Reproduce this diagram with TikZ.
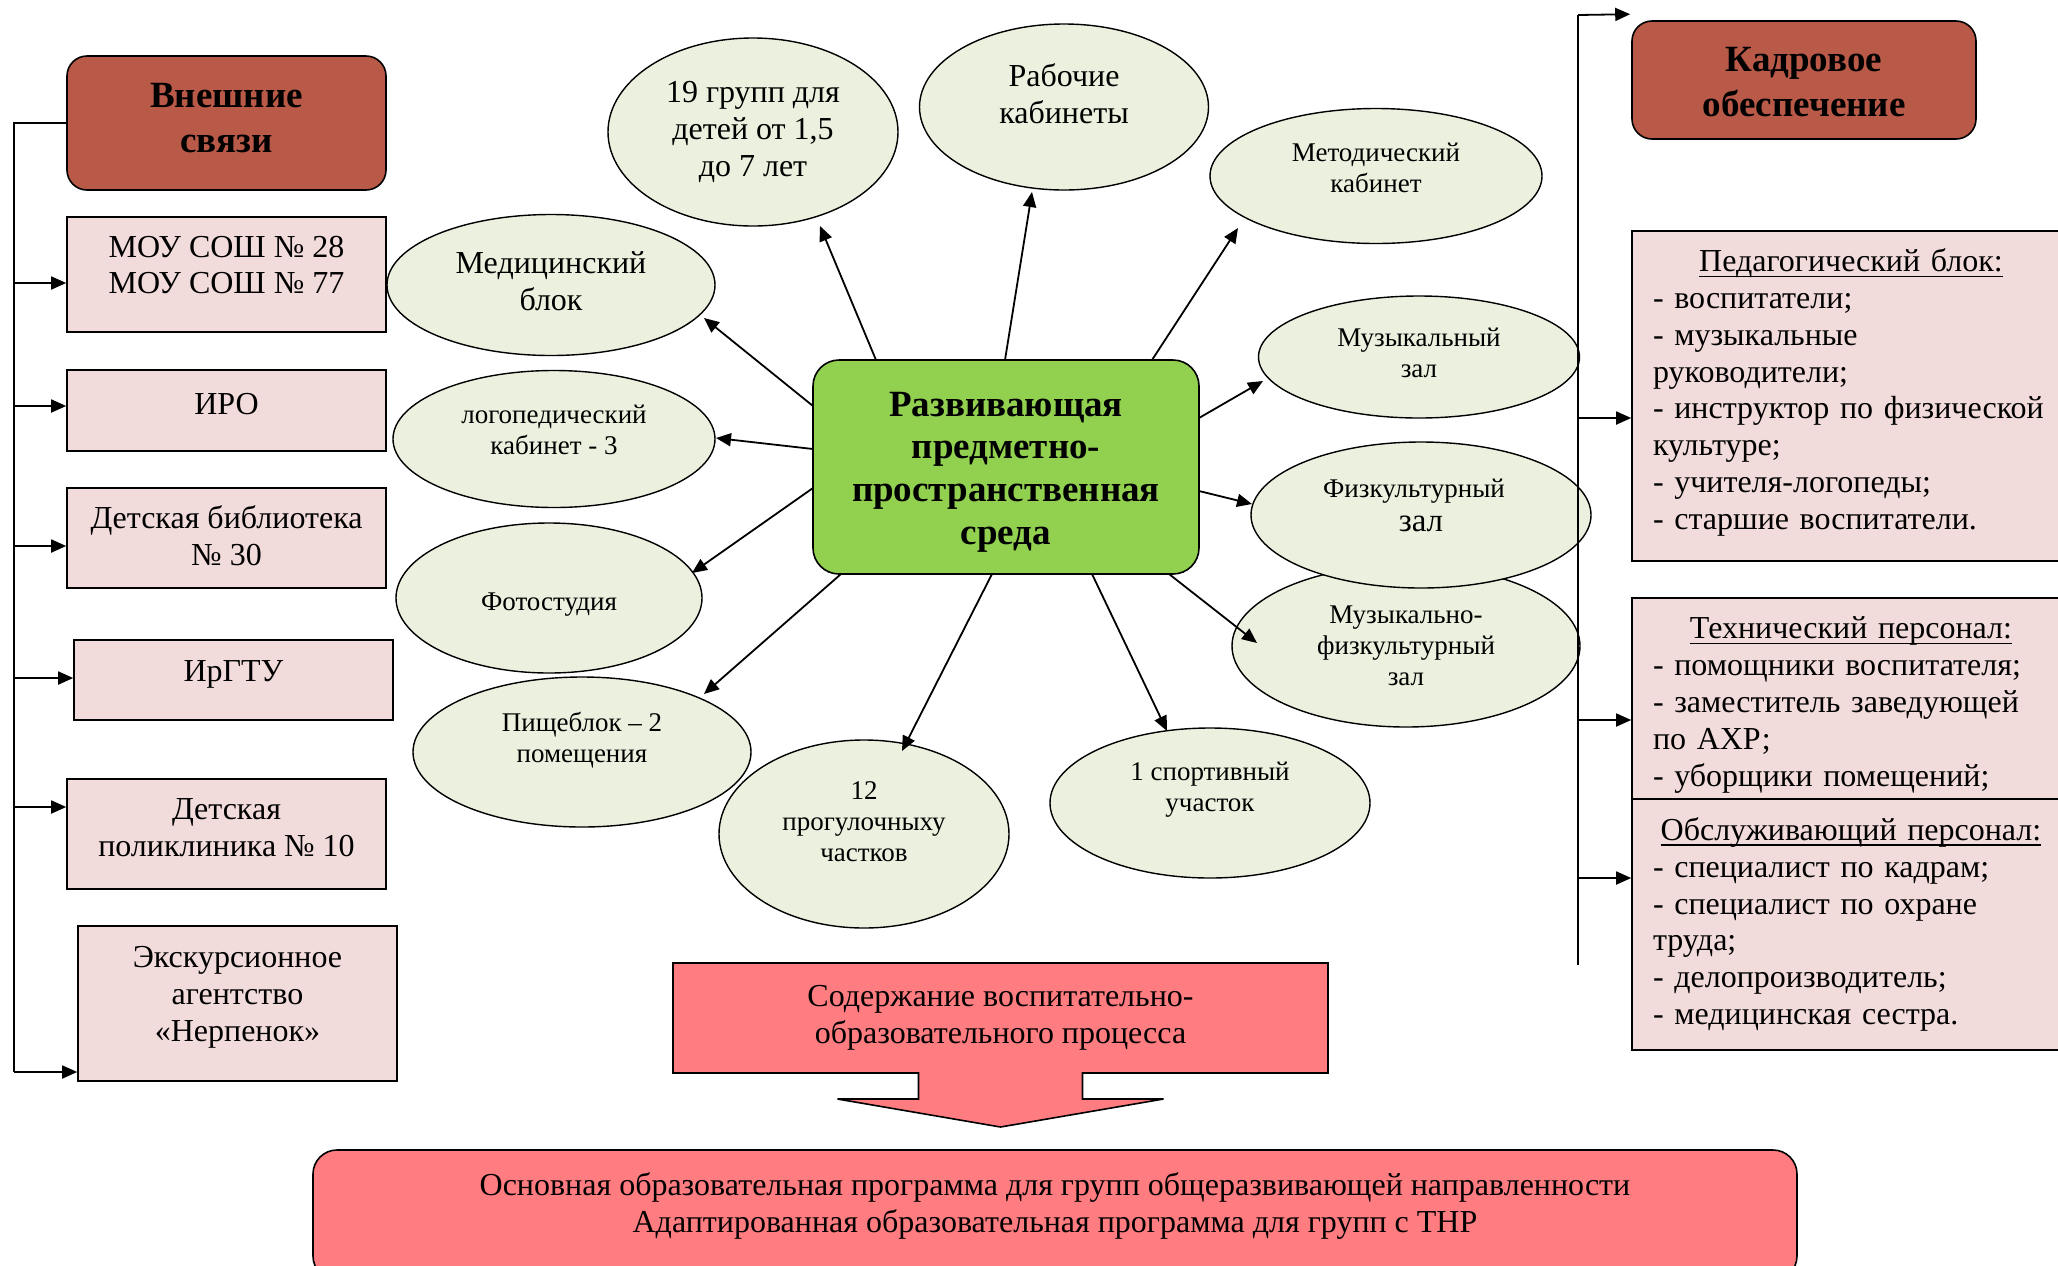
\documentclass[tikz,border=0pt]{standalone}
\usepackage{fontspec}
\setmainfont{Liberation Serif}
\usetikzlibrary{shapes.geometric,arrows.meta,calc}
\definecolor{brownhdr}{RGB}{185,89,72}
\definecolor{pinkbox}{RGB}{242,220,219}
\definecolor{ellfill}{RGB}{235,241,222}
\definecolor{greenc}{RGB}{146,208,80}
\definecolor{redbox}{RGB}{255,124,128}
\newcommand\myul[1]{\setbox0=\hbox{#1}\rlap{\rule[-2.5pt]{\wd0}{0.6pt}}\box0}
\begin{document}
\begin{tikzpicture}[x=0.5pt,y=-0.5pt,
  hdr/.style={draw=black, line width=0.8pt, fill=brownhdr, rounded corners=10pt, inner sep=0pt},
  hdrt/.style={font=\fontsize{18.5}{22.8}\selectfont\bfseries, align=center, inner sep=0pt},
  ext/.style={draw=black, line width=0.8pt, fill=pinkbox, inner sep=0pt, minimum width=159.5pt},
  rbox/.style={draw=black, line width=0.8pt, fill=pinkbox, minimum width=219pt, inner sep=0pt},
  rboxt/.style={font=\fontsize{16}{18.4}\selectfont, align=left, text width=198pt, inner sep=0pt},
  ell/.style={ellipse, draw=black, line width=0.7pt, fill=ellfill, inner sep=0pt},
  bigt/.style={font=\fontsize{16}{18.4}\selectfont, align=center, inner sep=0pt},
  smallt/.style={font=\fontsize{13.5}{15.5}\selectfont, align=center, inner sep=0pt},
  arr/.style={line width=0.9pt, -{Triangle[length=7.5pt,width=6.5pt]}},
  busline/.style={line width=0.9pt},
]
\clip (0,0) rectangle (2058,1265);
\fill[white] (0,0) rectangle (2058,1265);

% ---------- left column ----------
\node[hdr, minimum width=159.5pt, minimum height=67pt] (vs) at (226.5,123) {};
\node[hdrt] (vst) at ($(vs.center)+(0,-5)$) {Внешние\\связи};
\node[ext, minimum height=57.5pt] (moy) at (226.5,274.5) {};
\node[bigt] (moyt) at ($(moy.center)+(0,-9.5)$) {МОУ СОШ № 28\\МОУ СОШ № 77};
\node[ext, minimum height=40.5pt] (iro) at (226.5,410.5) {};
\node[bigt] (irot) at ($(iro.center)+(0,-6)$) {ИРО};
\node[ext, minimum height=50pt] (lib) at (226.5,538) {};
\node[bigt] (libt) at ($(lib.center)+(0,-2)$) {Детская библиотека\\№ 30};
\node[ext, minimum height=40pt] (irg) at (233.5,680) {};
\node[bigt] (irgt) at ($(irg.center)+(0,-6)$) {ИрГТУ};
\node[ext, minimum height=55pt] (pol) at (226.5,834) {};
\node[bigt] (polt) at ($(pol.center)+(0,-6.5)$) {Детская\\поликлиника № 10};
\node[ext, minimum height=77.5pt] (exc) at (237.5,1003.5) {};
\node[bigt] (exct) at ($(exc.center)+(0,-6)$) {Экскурсионное\\агентство\\«Нерпенок»};

\draw[busline] (vs.west) -- ++(-52,0) coordinate (lbtop) -- ($(exc.west)+(-63,68.5)$) coordinate (lbbot);
\draw[arr] ($(moy.west)+(-52,8.5)$) -- ($(moy.west)+(0,8.5)$);
\draw[arr] ($(iro.west)+(-52,-4.5)$) -- ($(iro.west)+(0,-4.5)$);
\draw[arr] ($(lib.west)+(-52,8)$) -- ($(lib.west)+(0,8)$);
\draw[arr] ($(irg.west)+(-59,-2)$) -- ($(irg.west)+(0,-2)$);
\draw[arr] ($(pol.west)+(-52,-27)$) -- ($(pol.west)+(0,-27)$);
\draw[arr] (lbbot) -- ($(exc.west)+(0,68.5)$);

% ---------- centre ----------
\node[draw=black, line width=0.8pt, fill=greenc, rounded corners=13pt, minimum width=193pt,
  minimum height=107pt, inner sep=0pt] (ctr) at (1006,467) {};
\node[font=\fontsize{18.5}{21.3}\selectfont\bfseries, align=center, inner sep=0pt]
  (ctrt) at ($(ctr.center)+(0,5)$) {Развивающая\\предметно-\\пространственная\\среда};

% ---------- ellipses ----------
\node[ell, minimum width=145pt, minimum height=94pt] (g19) at (753,132) {};
\node[bigt] (g19t) at (g19.center) {19 групп для\\детей от 1,5\\до 7 лет};
\node[ell, minimum width=144.5pt, minimum height=83pt] (rab) at (1064,107) {};
\node[bigt] (rabt) at ($(rab.center)+(0,-13)$) {Рабочие\\кабинеты};
\node[ell, minimum width=164pt, minimum height=70.5pt] (med) at (551,285) {};
\node[bigt] (medt) at ($(med.center)+(0,-4)$) {Медицинский\\блок};
\node[ell, minimum width=166pt, minimum height=67.5pt] (met) at (1376,176) {};
\node[smallt] (mett) at ($(met.center)+(0,-8)$) {Методический\\кабинет};
\node[ell, minimum width=160.5pt, minimum height=61pt] (muz) at (1419,357) {};
\node[smallt] (muzt) at ($(muz.center)+(0,-4)$) {Музыкальный\\зал};
\node[ell, minimum width=174pt, minimum height=81pt] (mf) at (1406,646) {};
\node[smallt] (mft) at (mf.center) {Музыкально-\\физкультурный\\зал};
\node[ell, minimum width=170pt, minimum height=73pt] (fiz) at (1421,515) {};
\node[font=\fontsize{13.5}{17}\selectfont, align=center, inner sep=0pt] (fizt) at ($(fiz.center)+(-7,-10)$) {Физкультурный\\\hspace*{7pt}{\fontsize{16.5}{17}\selectfont зал}};
\node[ell, minimum width=161pt, minimum height=68.5pt] (lo) at (554,439) {};
\node[smallt] (lot) at ($(lo.center)+(0,-9)$) {логопедический\\кабинет - 3};
\node[ell, minimum width=153pt, minimum height=75pt] (fo) at (549,598) {};
\node[smallt] (fot) at ($(fo.center)+(0,7)$) {Фотостудия};
\node[ell, minimum width=169pt, minimum height=75pt] (pi) at (582,752) {};
\node[smallt] (pit) at ($(pi.center)+(0,-12)$) {Пищеблок – 2\\помещения};
\node[ell, minimum width=145pt, minimum height=94pt] (pr) at (864,834) {};
\node[smallt] (prt) at ($(pr.center)+(0,-12)$) {12\\прогулочныху\\частков};
\node[ell, minimum width=160pt, minimum height=75pt] (sp) at (1210,803) {};
\node[smallt] (spt) at ($(sp.center)+(0,-13)$) {1 спортивный\\участок};

% ---------- connectors from centre ----------
\draw[arr] ($(ctr.center)+(-193,-61)$) -- ($(med.center)+(153,33)$);
\draw[arr] ($(ctr.center)+(-130,-107)$) -- ($(g19.center)+(67,94)$);
\draw[arr] ($(ctr.center)+(-1,-107)$) -- ($(rab.center)+(-32,85)$);
\draw[arr] ($(ctr.center)+(146,-107)$) -- ($(met.center)+(-138,52)$);
\draw[arr] ($(ctr.center)+(193,-49)$) -- ($(muz.center)+(-156,24)$);
\draw[arr] ($(ctr.center)+(193,24)$) -- ($(fiz.center)+(-169,-11)$);
\draw[arr] ($(ctr.center)+(163,107)$) -- ($(mf.center)+(-149,-3)$);
\draw[arr] ($(ctr.center)+(86,107)$) -- ($(sp.center)+(-43,-72)$);
\draw[arr] ($(ctr.center)+(-14,107)$) -- ($(pr.center)+(38,-83)$);
\draw[arr] ($(ctr.center)+(-165,107)$) -- ($(pi.center)+(122,-58)$);
\draw[arr] ($(ctr.center)+(-193,21)$) -- ($(fo.center)+(143,-25)$);
\draw[arr] ($(ctr.center)+(-193,-18)$) -- ($(lo.center)+(162,-1)$);

% ---------- right column ----------
\node[hdr, minimum width=172pt, minimum height=59pt] (kad) at (1804,80) {};
\node[hdrt] (kadt) at ($(kad.center)+(0,2)$) {Кадровое\\обеспечение};
\node[rbox, minimum height=165pt] (ped) at (1851,396) {};
\node[rboxt] (pedt) at ($(ped.center)+(0,-3.5)$) {\makebox[198pt][c]{\myul{Педагогический блок:}}\\- воспитатели;\\- музыкальные\\руководители;\\- инструктор по физической\\культуре;\\- учителя-логопеды;\\- старшие воспитатели.};
\node[rbox, minimum height=100.5pt] (tex) at (1851,698.5) {};
\node[rboxt] (text) at ($(tex.center)+(0,6.5)$) {\makebox[198pt][c]{\myul{Технический персонал:}}\\- помощники воспитателя;\\- заместитель заведующей\\по АХР;\\- уборщики помещений;};
\node[rbox, minimum height=125.5pt] (obs) at (1851,924.5) {};
\node[rboxt] (obst) at (obs.center) {\makebox[198pt][c]{\myul{Обслуживающий персонал:}}\\- специалист по кадрам;\\- специалист по охране\\труда;\\- делопроизводитель;\\- медицинская сестра.};

\coordinate (rbtop) at ($(ped.west)+(-53,-381)$);
\draw[busline] (rbtop) -- ($(obs.west)+(-53,40.5)$) coordinate (rbbot);
\draw[arr] (rbtop) -- ($(kad.north west)+(-1,-6)$);
\draw[arr] ($(ped.west)+(-53,22)$) -- ($(ped.west)+(0,22)$);
\draw[arr] ($(tex.west)+(-53,21.5)$) -- ($(tex.west)+(0,21.5)$);
\draw[arr] ($(obs.west)+(-53,-46.5)$) -- ($(obs.west)+(0,-46.5)$);

% ---------- bottom ----------
\coordinate (contc) at (1000.5,1018);
\filldraw[fill=redbox, line width=0.8pt]
  ($(contc)+(-327.5,-55)$) -- ($(contc)+(327.5,-55)$) -- ($(contc)+(327.5,55)$)
  -- ($(contc)+(82,55)$) -- ($(contc)+(82,81)$) -- ($(contc)+(163,81)$)
  -- ($(contc)+(0,109)$) -- ($(contc)+(-163,81)$) -- ($(contc)+(-82,81)$)
  -- ($(contc)+(-82,55)$) -- ($(contc)+(-327.5,55)$) -- cycle;
\node[bigt] (cont) at (contc) {Содержание воспитательно-\\образовательного процесса};

\node[draw=black, line width=0.8pt, fill=redbox, rounded corners=12pt, minimum width=742pt,
  minimum height=65pt, inner sep=0pt] (prog) at (1055,1215) {};
\node[bigt] (progt) at ($(prog.north)+(0,57)$) {Основная образовательная программа для групп общеразвивающей направленности\\Адаптированная образовательная программа для групп с ТНР};
\end{tikzpicture}
\end{document}
